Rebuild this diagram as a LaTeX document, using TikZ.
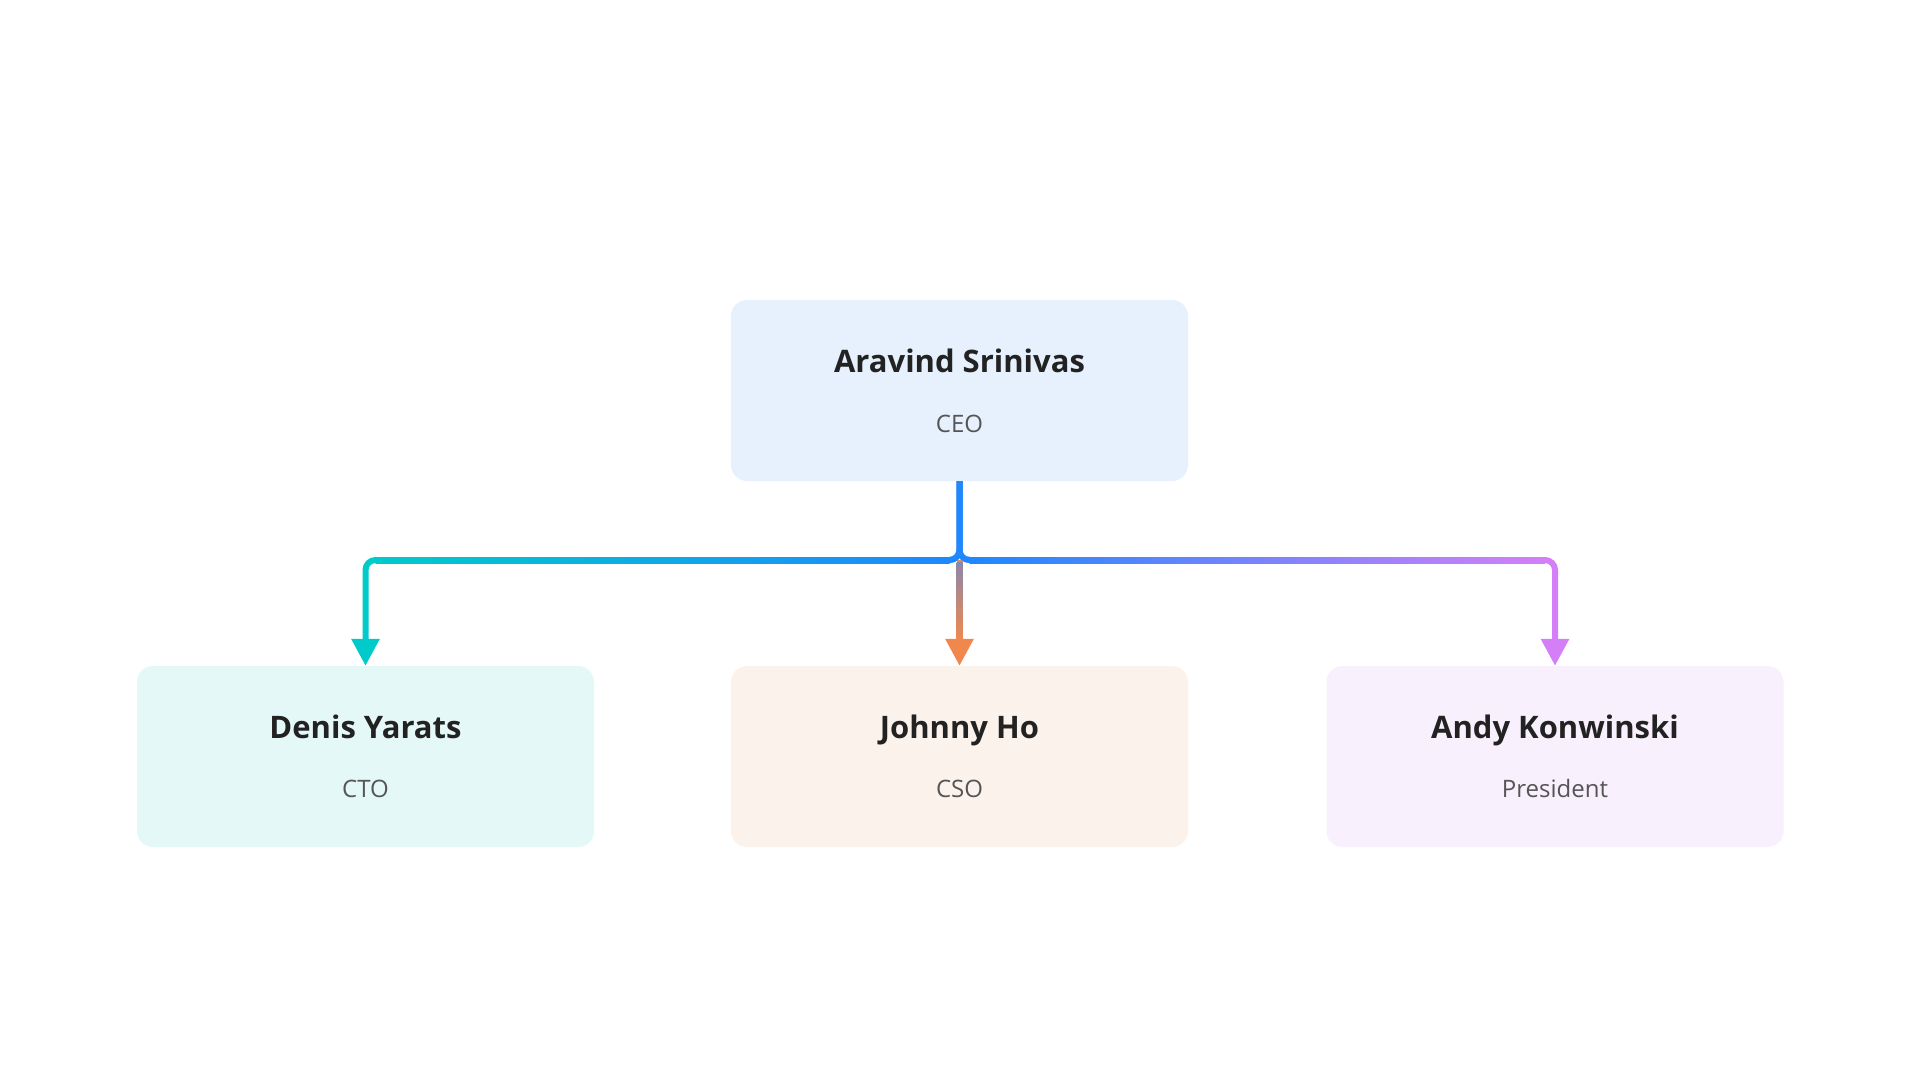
\documentclass[tikz,border=0pt]{standalone}
\usepackage{fontspec}
\setmainfont{Open Sans}
\usetikzlibrary{arrows.meta,calc}
\definecolor{ceofill}{HTML}{E6F1FD}
\definecolor{ctofill}{HTML}{E4F8F7}
\definecolor{csofill}{HTML}{FCF2EC}
\definecolor{presfill}{HTML}{F8F0FD}
\definecolor{namec}{HTML}{222222}
\definecolor{rolec}{HTML}{555555}
\definecolor{trunkc}{HTML}{1E88FF}
\definecolor{cyanc}{HTML}{00CACA}
\definecolor{purplec}{HTML}{D47FF8}
\definecolor{orangec}{HTML}{F0884E}
\definecolor{midc}{HTML}{8A88A8}
\tikzset{
  card/.style={rectangle, rounded corners=16pt, minimum width=457pt, minimum height=181pt, inner sep=0pt, draw=none},
  nametext/.style={anchor=base, inner sep=0pt, text=namec, font=\bfseries\fontsize{31pt}{37pt}\selectfont},
  roletext/.style={anchor=base, inner sep=0pt, text=rolec, font=\fontsize{24pt}{29pt}\selectfont},
  link/.style={line width=6pt, rounded corners=10pt},
  tipend/.style={-{Triangle[width=27pt,length=27pt]}},
}
\begin{document}
\begin{tikzpicture}[x=1pt,y=-1pt]
\path[use as bounding box, fill=white] (0,0) rectangle (1920,1080);

% cards
\node[card, fill=ceofill]  (ceo)  at (959.5,390.5) {};
\node[card, fill=ctofill]  (cto)  at (365.5,756.5) {};
\node[card, fill=csofill]  (cso)  at (959.5,756.5) {};
\node[card, fill=presfill] (pres) at (1555,756.5) {};

% texts
\node[nametext] (ceoN)  at ([yshift=18.5pt]ceo.center)  {Aravind Srinivas};
\node[roletext] (ceoR)  at ([yshift=-41.5pt]ceo.center) {CEO};
\node[nametext] (ctoN)  at ([yshift=18.5pt]cto.center)  {Denis Yarats};
\node[roletext] (ctoR)  at ([yshift=-40.5pt]cto.center) {CTO};
\node[nametext] (csoN)  at ([yshift=18.5pt]cso.center)  {Johnny Ho};
\node[roletext] (csoR)  at ([yshift=-40.5pt]cso.center) {CSO};
\node[nametext] (presN) at ([yshift=18.5pt]pres.center) {Andy Konwinski};
\node[roletext] (presR) at ([yshift=-40.5pt]pres.center) {President};

% connectors
\coordinate (hy) at (0,560);
\coordinate (jn) at (ceo.south |- hy);

% middle branch
\draw[line width=6pt, orangec, tipend] (jn) -- (cso.north);
\shade[top color=midc, bottom color=orangec] ($(jn)+(-3,2)$) rectangle ($(cso.north)+(3,-26)$);

% left and right branches
\draw[link, cyanc, tipend] (ceo.south) |- (cto.north |- hy) -- (cto.north);
\draw[link, purplec, tipend] (ceo.south) |- (pres.north |- hy) -- (pres.north);
\shade[left color=cyanc, right color=trunkc] ($(cto.north |- hy)+(10,-3)$) rectangle ($(jn)+(-10,3)$);
\shade[left color=trunkc, right color=purplec] ($(jn)+(10,-3)$) rectangle ($(pres.north |- hy)+(-10,3)$);

% trunk and junction curves
\draw[link, trunkc] (ceo.south) |- ($(jn)+(-12,0)$);
\draw[link, trunkc] (ceo.south) |- ($(jn)+(12,0)$);
\end{tikzpicture}
\end{document}
